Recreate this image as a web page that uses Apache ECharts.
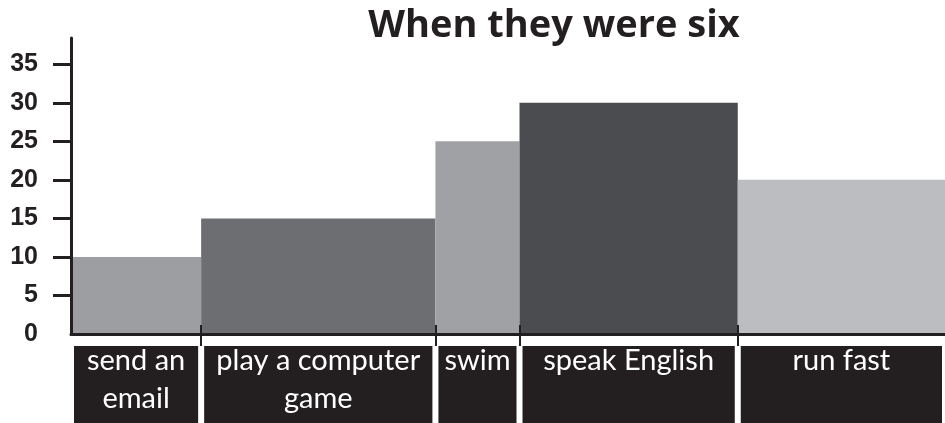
<!DOCTYPE html>
<html>
<head>
<meta charset="utf-8">
<script src="https://cdn.jsdelivr.net/npm/echarts@6/dist/echarts.min.js"></script>
<style>
  html, body { margin: 0; padding: 0; background: #fff; }
  #chart { width: 945px; height: 423px; }
</style>
</head>
<body>
<div id="chart"></div>
<script>
// data
var categories = ['send an\nemail', 'play a computer\ngame', 'swim', 'speak English', 'run fast'];
var values = [10, 15, 25, 30, 20];
var widths = [130, 234, 84, 218, 207]; // relative column widths
var yTicks = [0, 5, 10, 15, 20, 25, 30, 35];
var barColors = ['#9d9ea2', '#6d6e72', '#a0a1a5', '#4b4c4f', '#bcbdc0'];

var ink = '#231f20';

// cumulative start/end for every column
var rows = [];
var edges = [];
var acc = 0;
for (var i = 0; i < values.length; i++) {
  rows.push([acc, acc + widths[i], values[i]]);
  acc += widths[i];
  if (i < values.length - 1) edges.push(acc);
}
var total = acc;

var chart = echarts.init(document.getElementById('chart'));

chart.setOption({
  animation: false,
  title: {
    text: 'When they were six',
    left: 549,
    textAlign: 'center',
    top: 2,
    textStyle: {
      fontFamily: 'Open Sans',
      fontWeight: 'bold',
      fontSize: 38,
      color: ink
    }
  },
  grid: {
    left: 71,
    right: 0,
    top: 38,
    bottom: 89
  },
  xAxis: [
    {
      type: 'value',
      min: 0,
      max: total,
      splitLine: { show: false },
      axisLabel: { show: false },
      axisLine: { show: true, lineStyle: { color: ink, width: 3 } },
      axisTick: {
        show: true,
        customValues: edges,
        length: 12,
        lineStyle: { color: ink, width: 2 }
      },
      z: 5
    },
    {
      type: 'value',
      position: 'bottom',
      min: 0,
      max: total,
      splitLine: { show: false },
      axisLabel: { show: false },
      axisLine: { show: false },
      axisTick: {
        show: true,
        inside: true,
        customValues: edges,
        length: 9,
        lineStyle: { color: ink, width: 2 }
      },
      z: 5
    }
  ],
  yAxis: {
    type: 'value',
    min: 0,
    max: 38.4,
    interval: 5,
    splitLine: { show: false },
    axisLine: { show: true, lineStyle: { color: ink, width: 3 } },
    axisTick: {
      show: true,
      length: 18,
      customValues: yTicks.slice(1),
      lineStyle: { color: ink, width: 3 }
    },
    axisLabel: {
      customValues: yTicks,
      margin: 33,
      fontFamily: 'Liberation Sans',
      fontWeight: 'bold',
      fontSize: 25,
      color: ink
    },
    z: 5
  },
  series: [
    {
      type: 'custom',
      clip: false,
      data: rows,
      encode: { x: [0, 1], y: 2 },
      renderItem: function (params, api) {
        var i = params.dataIndex;
        var top = api.coord([api.value(0), api.value(2)]);
        var base = api.coord([api.value(1), 0]);
        var w = base[0] - top[0];
        var boxTop = base[1] + 12;
        return {
          type: 'group',
          children: [
            {
              type: 'rect',
              shape: { x: top[0], y: top[1], width: w, height: base[1] - top[1] },
              style: { fill: barColors[i] }
            },
            {
              type: 'rect',
              shape: { x: top[0] + 3, y: boxTop, width: w - 6, height: api.getHeight() - boxTop },
              style: { fill: ink }
            },
            {
              type: 'text',
              style: {
                text: categories[i],
                x: top[0] + w / 2,
                y: boxTop - 4,
                align: 'center',
                verticalAlign: 'top',
                fill: '#fff',
                font: '29px Lato',
                lineHeight: 38
              }
            }
          ]
        };
      }
    }
  ]
});
</script>
</body>
</html>
